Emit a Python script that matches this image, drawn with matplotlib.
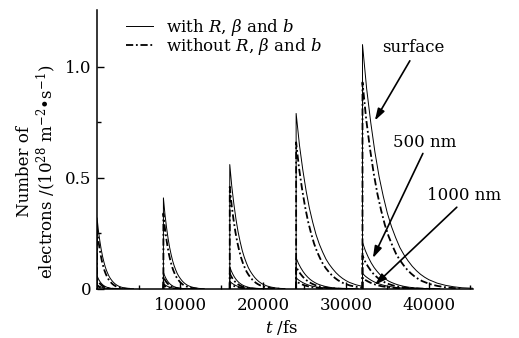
import matplotlib
matplotlib.use("Agg")
import matplotlib.pyplot as plt
import numpy as np
from matplotlib.lines import Line2D

plt.rcParams['font.family'] = ['DejaVu Serif']
plt.rcParams['mathtext.fontset'] = 'dejavuserif'

# ---- data ----
pulse_start = [0, 8000, 16000, 24000, 32000]          # fs
pulse_timescale = [0.33, 0.37, 0.5, 0.8, 1.0]         # relative decay duration per pulse

# normalized decay profile (read from the last pulse, surface, with R, beta, b)
profile_t = [0, 500, 1000, 1500, 2000, 2500, 3000, 3500, 4000, 4500, 5000, 5500,
             6000, 6500, 7000, 7500, 8000, 9000, 10000, 11000, 12000, 13300]
profile_v = [1.0, 0.82, 0.68, 0.56, 0.46, 0.38, 0.31, 0.255, 0.21, 0.17, 0.14, 0.115,
             0.093, 0.075, 0.06, 0.048, 0.038, 0.024, 0.015, 0.009, 0.005, 0.003]

# peak values (1e28 m^-2 s^-1)
surf_with = [0.32, 0.41, 0.56, 0.79, 1.10]
surf_without = [0.27, 0.34, 0.46, 0.66, 0.93]
nm500_with = [0.06, 0.075, 0.10, 0.14, 0.21]
nm500_without = [0.045, 0.055, 0.07, 0.10, 0.15]
nm1000_with = [0.02, 0.025, 0.035, 0.05, 0.07]
nm1000_without = [0.014, 0.018, 0.025, 0.035, 0.05]

x_ticks = [10000, 20000, 30000, 40000]
y_ticks = [0, 0.5, 1.0]
y_ticklabels = ['0', '0.5', '1.0']

XMAX = 45300
fig = plt.figure(figsize=(5.19, 3.38), dpi=100)
ax = fig.add_axes([0.187, 0.145, 0.724, 0.825])

pt = np.array(profile_t, float)
pv = np.array(profile_v, float)


def draw_series(peaks, tscale, **kw):
    for i, t0 in enumerate(pulse_start):
        end = pulse_start[i + 1] if i + 1 < len(pulse_start) else XMAX
        tt = t0 + pt * pulse_timescale[i] * tscale
        vv = pv * peaks[i]
        m = tt <= end
        tt = np.concatenate([[t0], tt[m]])
        vv = np.concatenate([[0], vv[m]])
        ax.plot(tt, vv, color='k', **kw)


solid = dict(lw=0.7, ls='-')
dashed = dict(lw=1.3, ls=(0, (4, 1.5, 1, 1.5)))

draw_series(surf_with, 1.0, **solid)
draw_series(surf_without, 0.9, **dashed)
draw_series(nm500_with, 0.7, **solid)
draw_series(nm500_without, 0.65, **dashed)
draw_series(nm1000_with, 0.7, **solid)
draw_series(nm1000_without, 0.65, **dashed)

ax.set_xlim(0, XMAX)
ax.set_ylim(0, 1.255)
for s in ['top', 'right']:
    ax.spines[s].set_visible(False)
for s in ['left', 'bottom']:
    ax.spines[s].set_linewidth(1.1)

ax.set_xticks(x_ticks)
ax.set_xticklabels([str(v) for v in x_ticks])
ax.set_xticks([5000, 15000, 25000, 35000, 45000], minor=True)
ax.set_yticks(y_ticks)
ax.set_yticklabels(y_ticklabels)
ax.set_yticks([0.25, 0.75], minor=True)
ax.tick_params(which='both', direction='in', width=1.0)
ax.tick_params(which='major', length=5)
ax.tick_params(which='minor', length=3)
ax.tick_params(axis='x', which='major', pad=6, labelsize=12)
ax.tick_params(axis='y', which='major', pad=4, labelsize=12)

ax.set_xlabel('$t$ /fs', fontsize=12)
ax.xaxis.set_label_coords(0.49, -0.105)
ax.set_ylabel('Number of\nelectrons /(10$^{28}$ m$^{-2}$•s$^{-1}$)', fontsize=12,
              linespacing=1.05, ha='center')
ax.yaxis.set_label_coords(-0.105, 0.42)

handles = [Line2D([], [], color='k', **solid), Line2D([], [], color='k', **dashed)]
ax.legend(handles, ['with $R$, $\\beta$ and $b$', 'without $R$, $\\beta$ and $b$'],
          loc='upper left', bbox_to_anchor=(0.06, 1.0), frameon=False, fontsize=12,
          handlelength=1.6, handletextpad=0.8, labelspacing=-0.1, borderaxespad=0)

arrow = dict(arrowstyle='-|>,head_length=0.7,head_width=0.22', color='k', lw=1.2,
             shrinkA=0, shrinkB=0)
ax.annotate('', xy=(33490, 0.758), xytext=(37710, 1.027), arrowprops=arrow)
ax.text(38070, 1.085, 'surface', ha='center', va='center', fontsize=12)
ax.annotate('', xy=(33250, 0.139), xytext=(39280, 0.61), arrowprops=arrow)
ax.text(39520, 0.659, '500 nm', ha='center', va='center', fontsize=12)
ax.annotate('', xy=(33490, 0.018), xytext=(43370, 0.368), arrowprops=arrow,
            annotation_clip=False)
ax.text(44220, 0.42, '1000 nm', ha='center', va='center', fontsize=12, clip_on=False)

fig.savefig('out.png', dpi=100)
